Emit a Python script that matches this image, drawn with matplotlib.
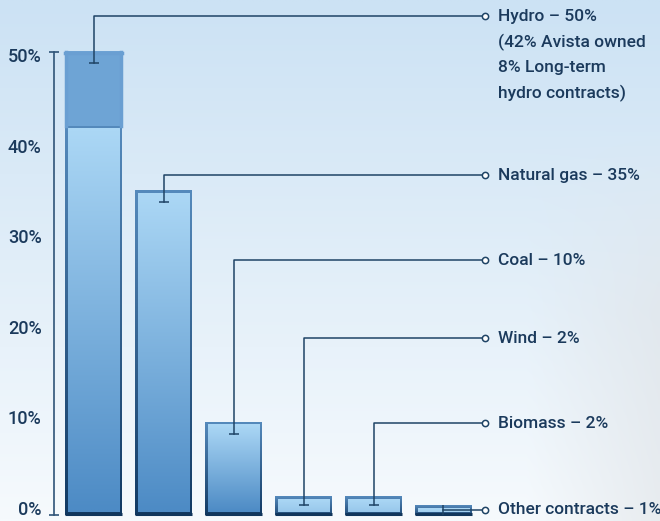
import numpy as np
import matplotlib
matplotlib.use("Agg")
import matplotlib.pyplot as plt
from matplotlib.colors import to_rgb

# energy resource mix, percent
categories = ["Hydro", "Natural gas", "Coal", "Wind", "Biomass", "Other contracts"]
shares = [50, 35, 10, 2, 2, 1]
hydro_owned = 42      # of the 50% hydro
hydro_contracts = 8
labels = ["Hydro \u2013 50%\n(42% Avista owned\n8% Long-term\nhydro contracts)",
          "Natural gas \u2013 35%",
          "Coal \u2013 10%",
          "Wind \u2013 2%",
          "Biomass \u2013 2%",
          "Other contracts \u2013 1%"]
yticks = [0, 10, 20, 30, 40, 50]

# where the leader lines end up (y in % units)
label_y = [53.9, 36.7, 27.5, 19.1, 9.9, 0.65]

plt.rcParams['font.family'] = ['Roboto', 'DejaVu Sans']
plt.rcParams['font.weight'] = 500
navy = "#1b3a5c"
line_col = "#1f4466"
fs = 12.5

fig = plt.figure(figsize=(6.6, 5.21), dpi=100)
ax = fig.add_axes([0, 0, 1, 1])
xlim = (-1.336, 8.093)
ylim = (-0.648, 55.62)
ax.set_axis_off()


def vgrad(top, bottom, n=64):
    t = np.linspace(0, 1, n)[:, None, None]
    return (1 - t) * np.array(to_rgb(top)) + t * np.array(to_rgb(bottom))


def mix(c1, c2, f):
    return tuple((1 - f) * np.array(to_rgb(c1)) + f * np.array(to_rgb(c2)))


# background: pale sky fading down, foggy grey on the right
ny, nx = 120, 200
yy = np.linspace(0, 1, ny)[:, None]
xx = np.linspace(0, 1, nx)[None, :]
base = (1 - yy)[..., None] * np.array(to_rgb("#cce2f4")) + yy[..., None] * np.array(to_rgb("#f6fafd"))
base = np.broadcast_to(base, (ny, nx, 3)).copy()
mx = np.clip((xx - 0.8) / 0.2, 0, 1)
my = np.clip((yy - 0.25) / 0.35, 0, 1)
mask = (mx * my)[..., None] * 0.6
base = (1 - mask) * base + mask * np.array(to_rgb("#dfe3e7"))
ax.imshow(base, extent=[*xlim, *ylim], aspect='auto', zorder=0, interpolation='bilinear')

bw = 0.814
ex, ey = 0.04, 0.3  # border thickness in data units


def draw_bar(x, y0, y1, fill_top, fill_bot, edge_top, edge_bot):
    l, r = x - bw / 2, x + bw / 2
    ax.imshow(vgrad(edge_top, edge_bot), extent=[l, r, y0, y1], aspect='auto',
              zorder=2, interpolation='bilinear')
    top_in = y1 - ey if y1 - y0 > 2 * ey else y1
    ax.imshow(vgrad(fill_top, fill_bot), extent=[l + ex, r - ex, y0 + ey, top_in],
              aspect='auto', zorder=3, interpolation='bilinear')


light = "#abd7f5"
dark = "#4d8bc5"
for i, v in enumerate(shares):
    lo = hydro_owned if i == 0 else v
    f = min(1.0, lo / 10)
    draw_bar(i, 0, lo, light, mix(light, dark, f),
             mix("#6aa3d8", "#153d66", 0.25), mix("#5e98d0", "#123a63", max(f, 0.8)))
    # dark base line
    ax.plot([i - bw / 2, i + bw / 2], [0.1, 0.1], color="#11365c", lw=2.2,
            solid_capstyle='butt', zorder=4)
    if i == 0:
        # upper hydro segment (long-term contracts)
        ax.imshow(vgrad("#6ea4d5", "#6ea4d5", 2), extent=[i - bw / 2, i + bw / 2, hydro_owned, v],
                  aspect='auto', zorder=2, interpolation='nearest')
        ax.plot([i - bw / 2 + ex / 2, i - bw / 2 + ex / 2], [hydro_owned, v], color="#6a9fd2", lw=2.5, zorder=4)
        ax.plot([i + bw / 2 - ex / 2, i + bw / 2 - ex / 2], [hydro_owned, v], color="#6a9fd2", lw=2.5, zorder=4)
        ax.plot([i - bw / 2, i + bw / 2], [v - 0.15, v - 0.15], color="#6a9fd2", lw=2.5, zorder=4)

# y axis with caps
ax.plot([-0.564, -0.564], [0, 50], color="#2f5478", lw=1.2, zorder=2)
ax.plot([-0.564, -0.564], [0, 50], ls='none', marker='_', ms=7, mew=1.2, color="#2f5478", zorder=2)
for t in yticks:
    # labels sit slightly inside the axis ends, as in the original
    ax.text(-0.74, 0.54 + t * 0.978, f"{t}%", ha='right', va='center', fontsize=fs + 0.5,
            color=navy, zorder=5)

# leader lines
end_x = 5.593
for i, (v, ly, lab) in enumerate(zip(shares, label_y, labels)):
    start = v - 1.2 if v > 4 else v * 0.55
    if i == len(shares) - 1:
        ax.plot([i, end_x], [start, start], color=line_col, lw=1.1, zorder=5)
        ax.plot([i], [start], ls='none', marker='|', ms=7, mew=1.1, color=line_col, zorder=5)
        ly = start
    else:
        ax.plot([i, i, end_x], [start, ly, ly], color=line_col, lw=1.1, zorder=5)
        ax.plot([i], [start], ls='none', marker='_', ms=7, mew=1.1, color=line_col, zorder=5)
    ax.plot([end_x], [ly], ls='none', marker='o', ms=4.5, mew=1.1, mfc='white', mec=line_col, zorder=6)
    if i == 0:
        ax.text(5.779, ly + 0.75, lab, ha='left', va='top', fontsize=fs, color=navy,
                linespacing=1.75, zorder=6)
    else:
        ax.text(5.779, ly, lab, ha='left', va='center', fontsize=fs, color=navy, zorder=6)

ax.set_xlim(*xlim)
ax.set_ylim(*ylim)
fig.savefig("out.png", dpi=100)
